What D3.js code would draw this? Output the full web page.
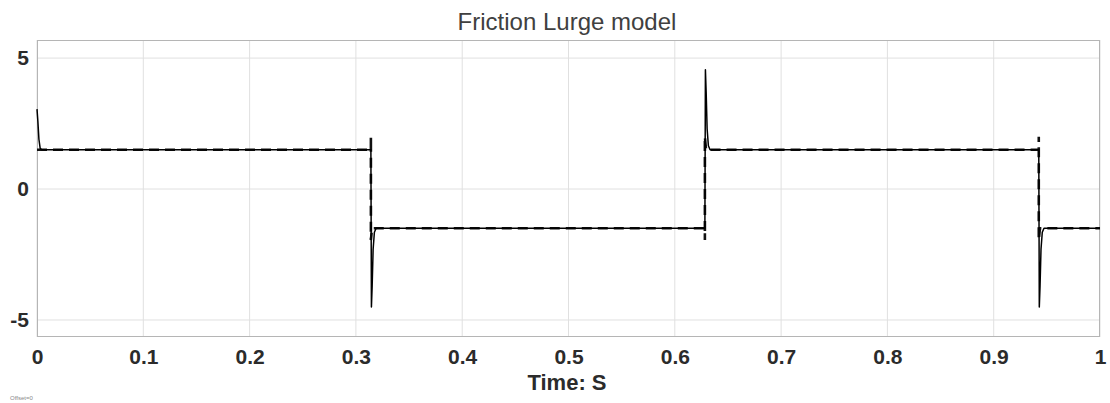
<!DOCTYPE html>
<html>
<head>
<meta charset="utf-8">
<script src="https://cdn.jsdelivr.net/npm/d3@7"></script>
<style>
  html, body { margin: 0; padding: 0; background: #fff; }
  svg { display: block; font-family: "Liberation Sans", Arial, sans-serif; }
</style>
</head>
<body>
<svg id="chart" width="1110" height="403"></svg>
<script>
// ---- data ----
const titleText = "Friction Lurge model";
const xLabelText = "Time: S";
const offsetText = "Offset=0";
const xTicks = [0, 0.1, 0.2, 0.3, 0.4, 0.5, 0.6, 0.7, 0.8, 0.9, 1];
const xTickLabels = ["0", "0.1", "0.2", "0.3", "0.4", "0.5", "0.6", "0.7", "0.8", "0.9", "1"];
const yTicks = [-5, 0, 5];
const yTickLabels = ["-5", "0", "5"];

// solid: simulated friction force
const solidTime  = [0, 0.0008, 0.0018, 0.003, 0.0045, 0.3141, 0.3146, 0.3153, 0.3162, 0.3174, 0.319, 0.6283, 0.6288, 0.6295, 0.6304, 0.6316, 0.6332, 0.9424, 0.9429, 0.9436, 0.9445, 0.9457, 0.9473, 1.0];
const solidValue = [3.05, 2.6, 1.9, 1.55, 1.5, 1.5, -4.5, -3.7, -2.3, -1.65, -1.5, -1.5, 4.55, 3.7, 2.3, 1.65, 1.5, 1.5, -4.5, -3.7, -2.3, -1.65, -1.5, -1.5];

// dashed: reference friction (Coulomb + static peak)
const dashTime  = [0, 0.3141, 0.3141, 0.3141, 0.3152, 0.6283, 0.6283, 0.6283, 0.6294, 0.9424, 0.9424, 0.9424, 0.9435, 1.0];
const dashValue = [1.5, 1.5, 2.0, -1.95, -1.5, -1.5, -1.95, 2.0, 1.5, 1.5, 2.0, -1.95, -1.5, -1.5];

// ---- layout ----
const svg = d3.select("#chart");
const L = 37, R = 1100, T = 40, B = 337;
const x = d3.scaleLinear().domain([0, 1]).range([L, R]);
const y = d3.scaleLinear().domain([-5.65, 5.69]).range([B, T]);

// grid
const g = svg.append("g");
g.selectAll(".vg").data(xTicks).enter().append("line")
  .attr("x1", d => x(d)).attr("x2", d => x(d)).attr("y1", T).attr("y2", B)
  .attr("stroke", "#e0e0e0").attr("stroke-width", 1);
g.selectAll(".hg").data(yTicks).enter().append("line")
  .attr("y1", d => y(d)).attr("y2", d => y(d)).attr("x1", L).attr("x2", R)
  .attr("stroke", "#e0e0e0").attr("stroke-width", 1);

// axes via d3 axis (labels styled)
const xAxis = d3.axisBottom(x).tickValues(xTicks).tickSize(0).tickPadding(12)
  .tickFormat((d, i) => xTickLabels[i]);
const yAxis = d3.axisLeft(y).tickValues(yTicks).tickSize(0).tickPadding(8)
  .tickFormat((d, i) => yTickLabels[i]);
const gx = svg.append("g").attr("transform", `translate(0,${B})`).call(xAxis);
const gy = svg.append("g").attr("transform", `translate(${L},0)`).call(yAxis);
[gx, gy].forEach(a => {
  a.select(".domain").remove();
  a.selectAll("text").attr("font-family", "Liberation Sans, Arial, sans-serif")
    .attr("font-size", 21).attr("font-weight", "bold").attr("fill", "#2b2b2b");
});
gx.selectAll("text").attr("dy", "0.71em");

// box
svg.append("rect").attr("x", L + 0.5).attr("y", T + 0.5).attr("width", R - L - 1).attr("height", B - T - 1)
  .attr("fill", "none").attr("stroke", "#b5b5b5").attr("stroke-width", 1);

// lines
const line = d3.line().x(d => x(d[0])).y(d => y(d[1]));
const solid = solidTime.map((t, i) => [t, solidValue[i]]);
const dash = dashTime.map((t, i) => [t, dashValue[i]]);

svg.append("path").datum(dash).attr("d", line)
  .attr("fill", "none").attr("stroke", "#111").attr("stroke-width", 2.6)
  .attr("stroke-dasharray", "10,6");
svg.append("path").datum(solid).attr("d", line)
  .attr("fill", "none").attr("stroke", "#000").attr("stroke-width", 1.5)
  .attr("stroke-linejoin", "round");

// title and labels
svg.append("text").attr("x", 567).attr("y", 30).attr("text-anchor", "middle")
  .attr("font-size", 24).attr("fill", "#404040").text(titleText);
svg.append("text").attr("x", 567).attr("y", 390).attr("text-anchor", "middle")
  .attr("font-size", 22).attr("font-weight", "bold").attr("fill", "#2b2b2b").text(xLabelText);
svg.append("text").attr("x", 10).attr("y", 400)
  .attr("font-size", 6).attr("fill", "#888").text(offsetText);
</script>
</body>
</html>
